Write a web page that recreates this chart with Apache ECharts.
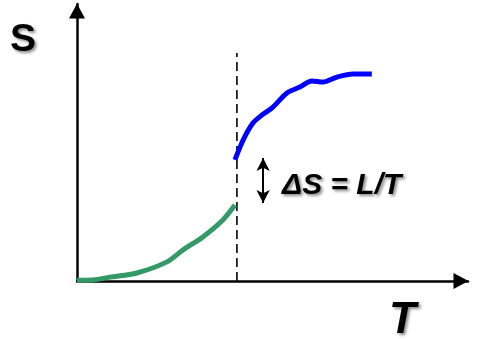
<!DOCTYPE html>
<html>
<head>
<meta charset="utf-8">
<script src="https://cdn.jsdelivr.net/npm/echarts@6/dist/echarts.min.js"></script>
<style>
  html, body { margin: 0; padding: 0; background: #fff; }
  #chart { width: 481px; height: 339px; }
</style>
</head>
<body>
<div id="chart"></div>
<script>
// Solid phase entropy S(T) below the transition temperature
const solidT = [0, 4.1, 8.4, 15.3, 23.0, 27.1, 32.2, 37.3, 40.4];
const solidS = [0.3, 0.4, 1.4, 2.9, 6.9, 11.2, 15.9, 22.0, 27.4];
// Liquid phase entropy S(T) above the transition temperature
const liquidT = [40.4, 42.5, 45.0, 47.3, 49.9, 53.7, 57.0, 60.1, 62.9, 66.5, 70.6, 75.4];
const liquidS = [43.7, 50.9, 57.0, 59.9, 62.5, 67.9, 70.0, 72.2, 71.8, 73.6, 74.7, 74.7];
// Transition temperature and the entropy jump
const transitionT = 40.9;
const dashTop = 82.3;
const jumpT = 47.6;
const jumpLow = 28.2;
const jumpHigh = 44.4;
const axisNames = ['S', 'T'];
const jumpLabel = 'ΔS = L/T';

const zip = (xs, ys) => xs.map((x, i) => [x, ys[i]]);

const chart = echarts.init(document.getElementById('chart'));
const shadow = { textShadowColor: 'rgba(0,0,0,0.45)', textShadowBlur: 3, textShadowOffsetX: 2, textShadowOffsetY: 2 };
// Filled triangular heads whose tips sit on the axis ends
const axisLine = {
  show: true, onZero: false, symbol: ['none', 'triangle'], symbolSize: [16, 15], symbolOffset: [0, -7],
  lineStyle: { color: '#000', width: 2.5 }
};

chart.setOption({
  animation: false,
  grid: { left: 77, top: 4, right: 13, bottom: 58 },
  xAxis: {
    type: 'value', min: 0, max: 100, axisLine: axisLine,
    axisTick: { show: false }, axisLabel: { show: false }, splitLine: { show: false }
  },
  yAxis: {
    type: 'value', min: 0, max: 100, axisLine: axisLine,
    axisTick: { show: false }, axisLabel: { show: false }, splitLine: { show: false }
  },
  series: [
    {
      type: 'line', data: [[transitionT, 0], [transitionT, dashTop]], symbol: 'none', z: 1,
      lineStyle: { color: '#000', width: 1.6, type: [9, 5] }
    },
    {
      type: 'line', data: zip(solidT, solidS), symbol: 'none', smooth: 0.3, z: 3,
      lineStyle: { color: '#339966', width: 5 }
    },
    {
      type: 'line', data: zip(liquidT, liquidS), symbol: 'none', smooth: 0.3, z: 3,
      lineStyle: { color: '#0000ff', width: 5 },
      markLine: {
        silent: true, symbol: ['arrow', 'arrow'], symbolSize: [10, 13],
        label: { show: false },
        lineStyle: { color: '#000', width: 2, type: 'solid' },
        data: [[{ coord: [jumpT, jumpLow] }, { coord: [jumpT, jumpHigh] }]]
      }
    }
  ],
  graphic: [
    { type: 'text', left: 10, top: 21, style: Object.assign({ text: axisNames[0], font: 'bold 39px "Liberation Sans", Arial, sans-serif', fill: '#000' }, shadow) },
    { type: 'text', left: 389, top: 299, style: Object.assign({ text: axisNames[1], font: 'italic bold 44px "Liberation Sans", Arial, sans-serif', fill: '#000' }, shadow) },
    { type: 'text', left: 282, top: 171, style: Object.assign({ text: jumpLabel, font: 'italic bold 30px "Liberation Sans", Arial, sans-serif', fill: '#000' }, shadow) }
  ]
});
</script>
</body>
</html>
